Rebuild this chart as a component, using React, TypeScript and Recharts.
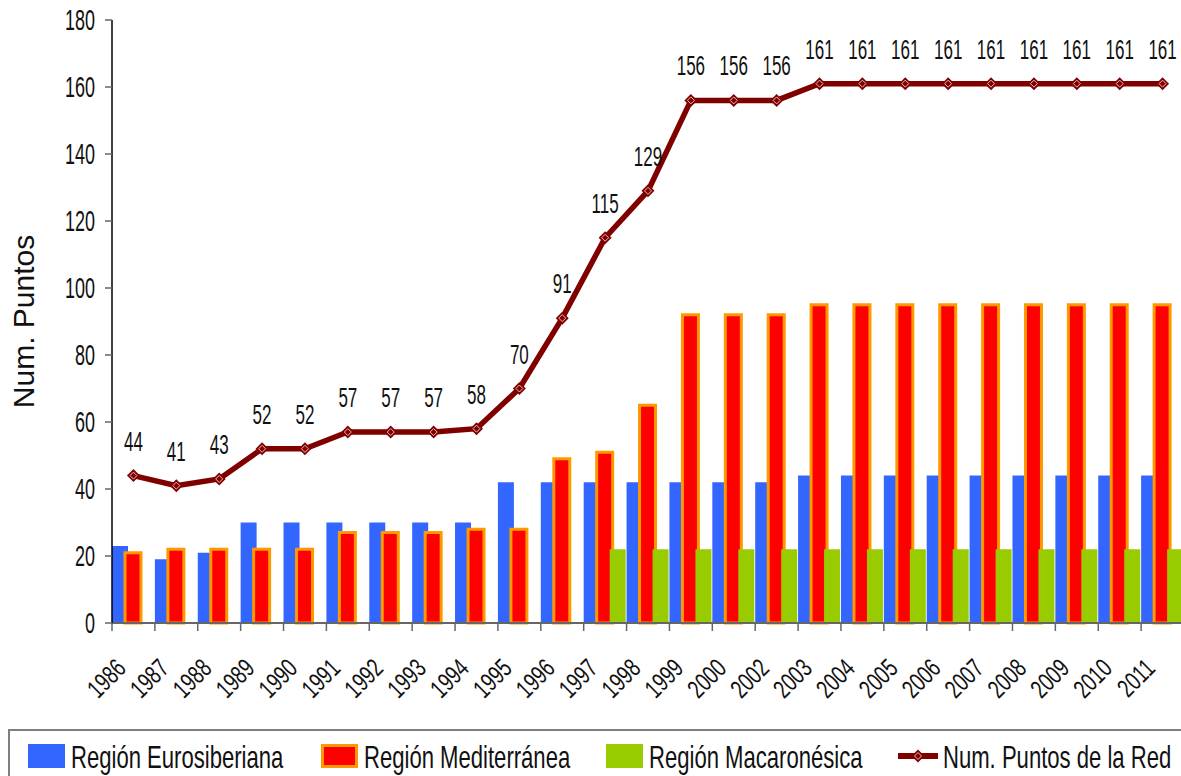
import { ComposedChart, Bar, Line, XAxis, YAxis, Legend, LabelList } from "recharts";

const years = [
  "1986", "1987", "1988", "1989", "1990", "1991", "1992", "1993", "1994", "1995",
  "1996", "1997", "1998", "1999", "2000", "2002", "2003", "2004", "2005", "2006",
  "2007", "2008", "2009", "2010", "2011",
];

const eurosiberiana = [23, 19, 21, 30, 30, 30, 30, 30, 30, 42, 42, 42, 42, 42, 42, 42, 44, 44, 44, 44, 44, 44, 44, 44, 44];
const mediterranea = [21, 22, 22, 22, 22, 27, 27, 27, 28, 28, 49, 51, 65, 92, 92, 92, 95, 95, 95, 95, 95, 95, 95, 95, 95];
const macaronesica = [null, null, null, null, null, null, null, null, null, null, null, 22, 22, 22, 22, 22, 22, 22, 22, 22, 22, 22, 22, 22, 22];
const totalPuntos = [44, 41, 43, 52, 52, 57, 57, 57, 58, 70, 91, 115, 129, 156, 156, 156, 161, 161, 161, 161, 161, 161, 161, 161, 161];

const yTicks = [0, 20, 40, 60, 80, 100, 120, 140, 160, 180];

const data = years.map((year, i) => ({
  year,
  eurosiberiana: eurosiberiana[i],
  mediterranea: mediterranea[i],
  macaronesica: macaronesica[i],
  total: totalPuntos[i],
}));

const FONT = "'Liberation Sans', Arial, sans-serif";

const BLUE = "#3366FF";
const RED = "#FF0000";
const ORANGE = "#FF9900";
const GREEN = "#99CC00";
const MAROON = "#800000";

const CHART_W = 1190;
const PLOT_LEFT = 112;
const PLOT_RIGHT = 1184;
const BAND = (PLOT_RIGHT - PLOT_LEFT) / years.length;

// the original uses a tall, very condensed face: squeeze Liberation Sans horizontally
function NarrowText(props: any) {
  const { x, y, size, sx, anchor = "start", rotate = 0, dy = 0, children } = props;
  return (
    <text
      transform={`translate(${x} ${y}) rotate(${rotate}) scale(${sx} 1)`}
      textAnchor={anchor}
      dy={dy}
      fontFamily={FONT}
      fontSize={size}
      fill="#111"
    >
      {children}
    </text>
  );
}

// year labels rotated, tick marks drawn on category borders
function YearTick(props: any) {
  const { x, y, payload } = props;
  const bx = x - BAND / 2;
  return (
    <g>
      <line x1={bx} y1={y} x2={bx} y2={y + 8} stroke="#666" strokeWidth={1.5} />
      <NarrowText x={x - 6} y={y + 47} size={26} sx={0.72} anchor="end" rotate={-45}>
        {payload.value}
      </NarrowText>
    </g>
  );
}

function ValueTick(props: any) {
  const { x, y, payload } = props;
  return (
    <NarrowText x={x} y={y} size={29} sx={0.62} anchor="end" dy={10}>
      {payload.value}
    </NarrowText>
  );
}

function PointLabel(props: any) {
  const { x, y, value } = props;
  return (
    <NarrowText x={x} y={y - 25} size={27} sx={0.63} anchor="middle">
      {value}
    </NarrowText>
  );
}

function Diamond(props: any) {
  const { cx, cy } = props;
  if (cx == null || cy == null) return null;
  const r = 6.5;
  const ri = 3.5;
  return (
    <g>
      <polygon points={`${cx},${cy - r} ${cx + r},${cy} ${cx},${cy + r} ${cx - r},${cy}`} fill={MAROON} />
      <polygon
        points={`${cx},${cy - ri} ${cx + ri},${cy} ${cx},${cy + ri} ${cx - ri},${cy}`}
        fill="none"
        stroke="#e8b8b8"
        strokeWidth={1}
      />
    </g>
  );
}

function AxisTitle(props: any) {
  const { viewBox } = props;
  const cx = 23;
  const cy = viewBox.y + viewBox.height / 2;
  return (
    <text
      x={cx}
      y={cy}
      transform={`rotate(-90 ${cx} ${cy})`}
      textAnchor="middle"
      dominantBaseline="central"
      fontFamily={FONT}
      fontSize={30}
      fill="#111"
    >
      Num. Puntos
    </text>
  );
}

const labelStyle = {
  display: "inline-block",
  fontFamily: FONT,
  fontSize: 32,
  lineHeight: "32px",
  color: "#111",
  whiteSpace: "nowrap" as const,
  transform: "scaleX(0.69)",
  transformOrigin: "0 50%",
  marginTop: 10,
};

function ChartLegend() {
  const box = { width: 37, height: 24, marginTop: 13, marginRight: 6, boxSizing: "border-box" as const, flex: "none" };
  const item = { display: "flex", alignItems: "flex-start", flex: "none" };
  return (
    <div
      style={{
        height: 47,
        width: 1200,
        boxSizing: "border-box",
        borderTop: "2px solid #7f7f7f",
        borderLeft: "2px solid #7f7f7f",
        display: "flex",
        alignItems: "flex-start",
        paddingLeft: 18,
      }}
    >
      <div style={{ ...item, width: 293 }}>
        <div style={{ ...box, background: BLUE }} />
        <span style={labelStyle}>Región Eurosiberiana</span>
      </div>
      <div style={{ ...item, width: 285 }}>
        <div style={{ ...box, background: RED, border: `3px solid ${ORANGE}` }} />
        <span style={labelStyle}>Región Mediterránea</span>
      </div>
      <div style={{ ...item, width: 292 }}>
        <div style={{ ...box, background: GREEN }} />
        <span style={labelStyle}>Región Macaronésica</span>
      </div>
      <div style={item}>
        <svg width={40} height={24} style={{ marginTop: 13, marginRight: 5, flex: "none" }}>
          <line x1={0} y1={12} x2={40} y2={12} stroke={MAROON} strokeWidth={6} />
          <Diamond cx={20} cy={12} />
        </svg>
        <span style={labelStyle}>Num. Puntos de la Red</span>
      </div>
    </div>
  );
}

export default function App() {
  return (
    <div style={{ position: "absolute", left: 0, top: 0, width: 1181, height: 776, overflow: "hidden", background: "#fff" }}>
      <ComposedChart
        width={CHART_W}
        height={776}
        data={data}
        margin={{ top: 20, right: CHART_W - PLOT_RIGHT, bottom: 0, left: 0 }}
        barCategoryGap={0}
        barGap={-3}
      >
        <XAxis
          dataKey="year"
          height={106}
          interval={0}
          tickLine={false}
          tickSize={0}
          tickMargin={0}
          tick={<YearTick />}
          axisLine={{ stroke: "#666", strokeWidth: 2 }}
        />
        <YAxis
          width={PLOT_LEFT}
          domain={[0, 180]}
          ticks={yTicks}
          interval={0}
          tickSize={7}
          tickMargin={10}
          axisLine={{ stroke: "#000", strokeWidth: 1.5 }}
          tickLine={{ stroke: "#666", strokeWidth: 1.5 }}
          tick={<ValueTick />}
          label={<AxisTitle />}
        />
        <Legend verticalAlign="bottom" align="left" content={<ChartLegend />} wrapperStyle={{ left: 8, width: 1200 }} />
        <Bar dataKey="eurosiberiana" name="Región Eurosiberiana" fill={BLUE} barSize={16} isAnimationActive={false} />
        <Bar
          dataKey="mediterranea"
          name="Región Mediterránea"
          fill={RED}
          stroke={ORANGE}
          strokeWidth={3}
          barSize={16}
          isAnimationActive={false}
        />
        <Bar dataKey="macaronesica" name="Región Macaronésica" fill={GREEN} barSize={16} isAnimationActive={false} />
        <Line
          dataKey="total"
          name="Num. Puntos de la Red"
          stroke={MAROON}
          strokeWidth={5.5}
          dot={<Diamond />}
          activeDot={false}
          isAnimationActive={false}
        >
          <LabelList dataKey="total" content={<PointLabel />} />
        </Line>
      </ComposedChart>
    </div>
  );
}
